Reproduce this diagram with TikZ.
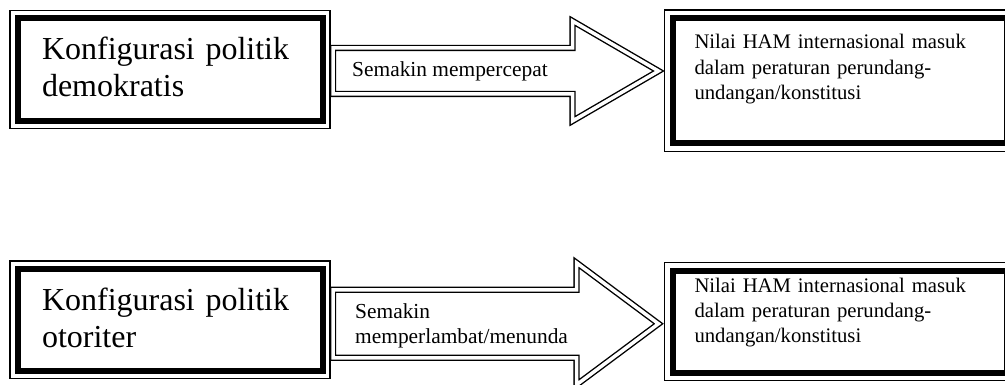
\documentclass[tikz,border=0pt]{standalone}
\usepackage{fontspec}
\setmainfont{Liberation Serif}
\usetikzlibrary{calc}

\tikzset{
    kotak/.style={draw, line width=6pt, outer sep=0pt, inner sep=0pt, align=left},
    bingkai/.style={draw, line width=1.2pt},
    panah/.style={draw, double, line width=1.4pt, double distance=3.5pt, line join=miter},
    besar/.style={font=\fontsize{32}{37}\selectfont},
    kecil/.style={font=\fontsize{20.7}{25.5}\selectfont},
    label/.style={font=\fontsize{21.4}{25}\selectfont, inner sep=0pt, align=left}
}

\begin{document}
\begin{tikzpicture}[x=1pt, y=-1pt]
            \fill[white] (0, 0) rectangle (1005, 385);
            \useasboundingbox (0, 0) rectangle (1005, 385);

            % kotak kiri
            \node[kotak, besar, minimum width=305pt, minimum height=103pt, text width=256pt,
                  text height=22pt, text depth=41pt] (demokratis) at (170, 69.5) {Konfigurasi politik\\demokratis};
            \node[kotak, besar, minimum width=305pt, minimum height=102.5pt, text width=256pt,
                  text height=22pt, text depth=41.5pt] (otoriter) at (170, 319.75) {Konfigurasi politik\\otoriter};

            % kotak kanan
            \node[kotak, kecil, minimum width=334pt, minimum height=125.5pt, text width=290pt,
                  text height=15pt, text depth=78.5pt] (nilaiA) at (839.5, 80.75) {Nilai HAM internasional masuk\\dalam peraturan perundang-\\undangan/konstitusi};
            \node[kotak, kecil, minimum width=334pt, minimum height=102pt, text width=290pt,
                  text height=15pt, text depth=74pt] (nilaiB) at (839.5, 321.5) {Nilai HAM internasional masuk\\dalam peraturan perundang-\\undangan/konstitusi};

            \draw[bingkai] ([shift={(-7.5, -7.5)}]demokratis.north west) rectangle ([shift={(7.5, 7.5)}]demokratis.south east);
            \draw[bingkai] ([shift={(-7.5, -7.5)}]otoriter.north west) rectangle ([shift={(7.5, 7.5)}]otoriter.south east);
            \draw[bingkai] ([shift={(-8, -8)}]nilaiA.north west) rectangle ([shift={(8, 8)}]nilaiA.south east);
            \draw[bingkai] ([shift={(-8, -8)}]nilaiB.north west) rectangle ([shift={(8, 8)}]nilaiB.south east);

            % panah atas
            \coordinate (a1) at ($(demokratis.east) + (10.5, 1.5)$);
            \coordinate (u1) at ($(nilaiA.west |- a1) + (-14, 0)$);
            \draw[panah] ($(a1) + (0, -23)$) -- ($(u1) + (-86, -23)$) -- ($(u1) + (-86, -50)$) -- (u1)
                -- ($(u1) + (-86, 50)$) -- ($(u1) + (-86, 23)$) -- ($(a1) + (0, 23)$) -- cycle;
            \node[label, anchor=west] (cepat) at ($(a1) + (19, 0)$) {Semakin mempercepat};

            % panah bawah
            \coordinate (a2) at ($(otoriter.east) + (10.5, 4)$);
            \coordinate (u2) at ($(nilaiB.west |- a2) + (-14, 0)$);
            \draw[panah] ($(a2) + (0, -34)$) -- ($(u2) + (-82, -34)$) -- ($(u2) + (-82, -61)$) -- (u2)
                -- ($(u2) + (-82, 61)$) -- ($(u2) + (-82, 34)$) -- ($(a2) + (0, 34)$) -- cycle;
            \node[label, anchor=west] (lambat) at ($(a2) + (22, 2)$) {Semakin\\memperlambat/menunda};
        \end{tikzpicture}
\end{document}
